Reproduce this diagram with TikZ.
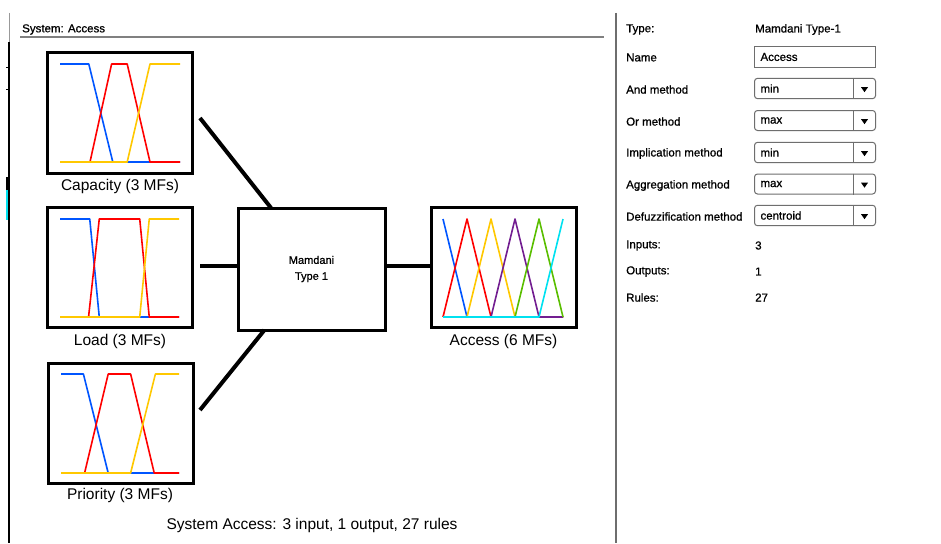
\documentclass[tikz,border=0pt]{standalone}
\usepackage{fontspec}
\setmainfont{Liberation Sans}
\newfontfamily\panelfont[FakeBold=0.8]{Liberation Sans}
\usetikzlibrary{calc,shapes.geometric}
\definecolor{mfblue}{RGB}{0,85,255}
\definecolor{mfred}{RGB}{255,0,0}
\definecolor{mfyellow}{RGB}{255,200,0}
\definecolor{mfpurple}{RGB}{115,30,145}
\definecolor{mfgreen}{RGB}{90,190,0}
\definecolor{mfcyan}{RGB}{0,225,240}
\definecolor{panelgray}{RGB}{110,110,110}
\begin{document}
\begin{tikzpicture}[x=1pt,y=-1pt,
  mfbox/.style={draw=black,line width=3pt,minimum width=145pt,minimum height=120pt,inner sep=0pt,outer sep=0pt},
  sysbox/.style={draw=black,line width=3pt,minimum width=147pt,minimum height=122pt,inner sep=0pt,outer sep=0pt,align=center,font=\panelfont\fontsize{11}{16}\selectfont},
  boxlabel/.style={font=\fontsize{15.5}{18}\selectfont,inner sep=0pt},
  conn/.style={line width=4pt,draw=black},
  mf/.style={line width=1.6pt,line join=round},
  plab/.style={anchor=west,inner sep=0pt,font=\panelfont\fontsize{11.5}{13}\selectfont},
  field/.style={draw=panelgray,line width=1pt,anchor=west,minimum height=20pt,text width=109pt,inner sep=6pt,align=left,font=\panelfont\fontsize{11.5}{13}\selectfont},
  dd/.style={field,rounded corners=3pt},
  ddarrow/.style={fill=black,isosceles triangle,shape border rotate=-90,minimum width=7pt,minimum height=5pt,inner sep=0pt,isosceles triangle apex angle=70}
]
\useasboundingbox (0,0) rectangle (941,543);
\fill[white] (0,0) rectangle (941,543);

% frame lines
\draw[gray!80,line width=0.8pt] (9,13) -- (9,42);
\draw[black,line width=2pt] (8.5,42) -- (8.5,543);
\draw[black,line width=3.5pt] (8,177) -- (8,190);
\draw[mfcyan,line width=1.2pt] (7,190) -- (7,220);
\draw[black,line width=0.8pt] (6,67) -- (9,67) (6,89) -- (9,89);
\draw[panelgray,line width=1.2pt] (616,13) -- (616,543);
\draw[gray,line width=1.2pt] (20,37) -- (604,37);
\node[plab] (systitle) at (22,29.5) {System: Access};

% boxes
\node[mfbox] (cap) at (120,113) {};
\node[mfbox] (load) at (120,267.5) {};
\node[mfbox] (prio) at (120.5,423.5) {};
\node[sysbox] (mam) at (311.5,269) {Mamdani\\Type 1};
\node[mfbox] (acc) at (503.5,267.5) {};

\node[boxlabel] (caplab) at (120,186.5) {Capacity (3 MFs)};
\node[boxlabel] (loadlab) at (120,341.5) {Load (3 MFs)};
\node[boxlabel] (priolab) at (120,495.5) {Priority (3 MFs)};
\node[boxlabel] (acclab) at (503.5,341.5) {Access (6 MFs)};
\node[boxlabel] (summary) at (312,525) {System Access: 3 input, 1 output, 27 rules};

% connectors
\coordinate (s1) at (200,118);
\coordinate (s2) at (200,266);
\coordinate (s3) at (200,410);
\draw[conn] (s1) -- ($(mam.north west)!0.225!(mam.north east)$);
\draw[conn] (s2) -- (s2 -| mam.west);
\draw[conn] (s3) -- ($(mam.south west)!0.18!(mam.south east)$);
\draw[conn] (mam.east |- s2) -- (acc.west |- s2);

% Capacity MFs
\begin{scope}[shift={(60,162)},x=120pt,y=98pt]
\draw[mf,mfblue] (0,1) -- (0.24,1) -- (0.44,0) -- (1,0);
\draw[mf,mfred] (0,0) -- (0.25,0) -- (0.43,1) -- (0.56,1) -- (0.75,0) -- (1,0);
\draw[mf,mfyellow] (0,0) -- (0.56,0) -- (0.75,1) -- (1,1);
\end{scope}
% Load MFs
\begin{scope}[shift={(60,317)},x=119pt,y=98pt]
\draw[mf,mfblue] (0,1) -- (0.25,1) -- (0.33,0) -- (1,0);
\draw[mf,mfred] (0,0) -- (0.24,0) -- (0.33,1) -- (0.67,1) -- (0.75,0) -- (1,0);
\draw[mf,mfyellow] (0,0) -- (0.67,0) -- (0.75,1) -- (1,1);
\end{scope}
% Priority MFs
\begin{scope}[shift={(61,473)},x=118pt,y=99pt]
\draw[mf,mfblue] (0,1) -- (0.19,1) -- (0.4,0) -- (1,0);
\draw[mf,mfred] (0,0) -- (0.2,0) -- (0.4,1) -- (0.59,1) -- (0.79,0) -- (1,0);
\draw[mf,mfyellow] (0,0) -- (0.59,0) -- (0.8,1) -- (1,1);
\end{scope}
% Access MFs
\begin{scope}[shift={(443,317)},x=120pt,y=98pt]
\draw[mf,mfblue] (0,1) -- (0.2,0) -- (1,0);
\draw[mf,mfred] (0,0) -- (0.2,1) -- (0.4,0) -- (1,0);
\draw[mf,mfyellow] (0,0) -- (0.2,0) -- (0.4,1) -- (0.6,0) -- (1,0);
\draw[mf,mfpurple] (0,0) -- (0.4,0) -- (0.6,1) -- (0.8,0) -- (1,0);
\draw[mf,mfgreen] (0,0) -- (0.6,0) -- (0.8,1) -- (1,0);
\draw[mf,mfcyan] (0,0) -- (0.8,0) -- (1,1);
\end{scope}

% right panel
\node[plab] (ltype) at (626,29.5) {Type:};
\node[plab] (vtype) at (755,29.5) {Mamdani Type-1};
\node[plab] (lname) at (626,57.5) {Name};
\node[field] (fname) at (754,57) {Access};
\node[plab] (land) at (626,89.5) {And method};
\node[dd] (fand) at (754,88.5) {min};
\node[plab] (lor) at (626,121.5) {Or method};
\node[dd] (for) at (754,120.5) {max};
\node[plab] (limp) at (626,153.5) {Implication method};
\node[dd] (fimp) at (754,152.5) {min};
\node[plab] (lagg) at (626,185.5) {Aggregation method};
\node[dd] (fagg) at (754,184) {max};
\node[plab] (ldef) at (626,216.5) {Defuzzification method};
\node[dd] (fdef) at (754,215.5) {centroid};
\node[plab] (linp) at (626,245.5) {Inputs:};
\node[plab] (vinp) at (755,245.5) {3};
\node[plab] (lout) at (626,271.5) {Outputs:};
\node[plab] (vout) at (755,271.5) {1};
\node[plab] (lrul) at (626,297.5) {Rules:};
\node[plab] (vrul) at (755,297.5) {27};

\foreach \d in {fand,for,fimp,fagg,fdef}{
  \draw[panelgray,line width=1pt] ([xshift=-23pt]\d.north east) -- ([xshift=-23pt]\d.south east);
  \node[ddarrow] at ([xshift=-11.5pt,yshift=-0.5pt]\d.east) {};
}
\end{tikzpicture}
\end{document}
